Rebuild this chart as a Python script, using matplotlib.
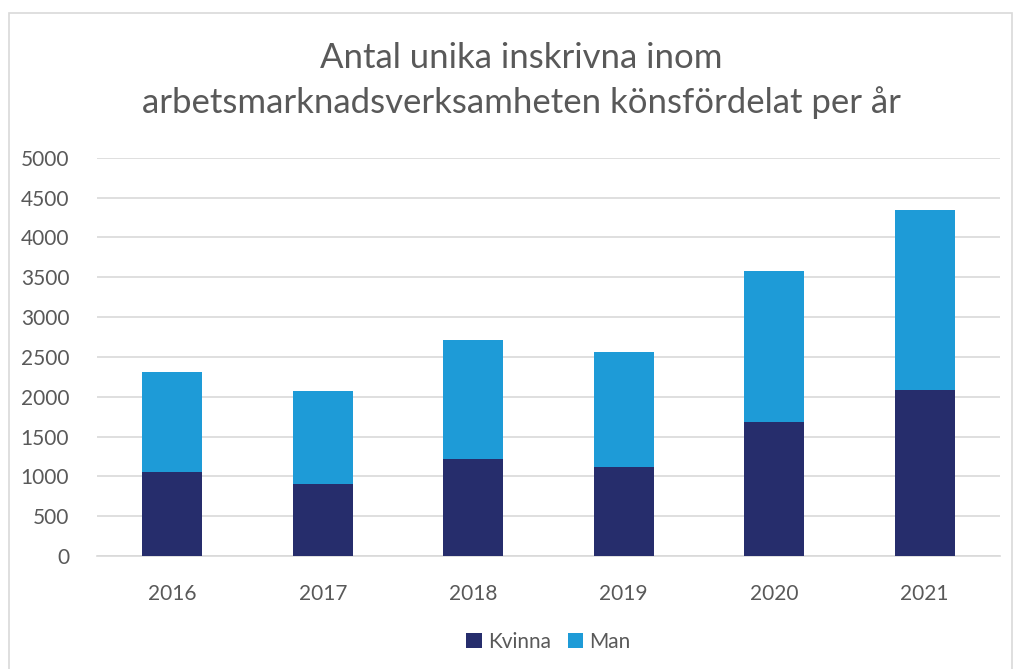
import matplotlib.pyplot as plt
from matplotlib.patches import Rectangle

years = ['2016', '2017', '2018', '2019', '2020', '2021']
kvinna = [1050, 908, 1212, 1121, 1684, 2084]
man = [1260, 1163, 1500, 1437, 1896, 2262]

c_kvinna = '#262D6C'
c_man = '#1E9BD7'
text_color = '#595959'

plt.rcParams['font.family'] = ['Lato', 'DejaVu Sans']

fig = plt.figure(figsize=(10.18, 6.69), dpi=100)
ax = fig.add_axes([0.0953, 0.169, 0.887, 0.595])

# outer chart border
fig.patches.append(Rectangle((0.009, -0.01), 0.985, 0.99, transform=fig.transFigure,
                             fill=False, edgecolor='#D9D9D9', linewidth=1.2))

x = range(len(years))
ax.bar(x, kvinna, width=0.4, color=c_kvinna, label='Kvinna', zorder=3)
ax.bar(x, man, width=0.4, bottom=kvinna, color=c_man, label='Man', zorder=3)

ax.set_xlim(-0.5, len(years) - 0.5)
ax.set_ylim(0, 5000)
ax.set_yticks(range(0, 5001, 500))
ax.set_xticks(list(x))
ax.set_xticklabels(years)
ax.yaxis.grid(True, color='#D9D9D9', linewidth=1.2, zorder=0)
ax.set_axisbelow(True)
for s in ['top', 'right', 'left']:
    ax.spines[s].set_visible(False)
ax.spines['bottom'].set_color('#D9D9D9')
ax.spines['bottom'].set_linewidth(1.2)
ax.tick_params(axis='both', length=0, labelsize=15, labelcolor=text_color)
ax.tick_params(axis='x', pad=20)
ax.tick_params(axis='y', pad=20)

# title, two lines
fig.text(0.512, 0.913, 'Antal unika inskrivna inom',
         ha='center', va='center', fontsize=25, color=text_color)
fig.text(0.512, 0.846, 'arbetsmarknadsverksamheten könsfördelat per år',
         ha='center', va='center', fontsize=25, color=text_color)

ax.legend(loc='center', bbox_to_anchor=(0.5, -0.215), ncol=2, frameon=False,
          fontsize=15, labelcolor=text_color, handlelength=0.75, handleheight=0.75,
          handletextpad=0.3, columnspacing=0.8)

fig.savefig('out.png', dpi=100)
